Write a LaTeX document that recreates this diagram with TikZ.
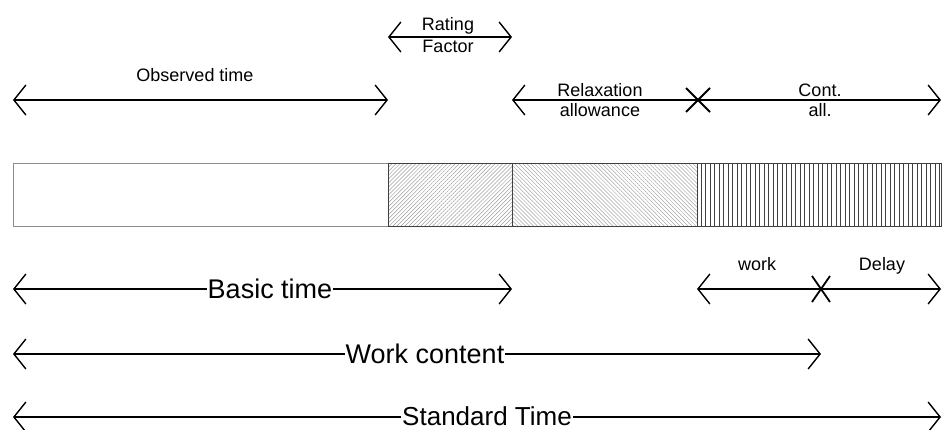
\documentclass[tikz,border=0pt]{standalone}
\usepackage{fontspec}
\setmainfont{Liberation Sans}
\usetikzlibrary{arrows.meta,patterns.meta}
\tikzset{
  chev/.tip={Straight Barb[length=12pt,width=30pt,line width=1.4pt]},
  dim/.style={line width=1.3pt,{chev}-{chev}},
  small/.style={font=\fontsize{18}{20}\selectfont,inner sep=0pt},
  big/.style={font=\fontsize{27}{30}\selectfont,fill=white,inner sep=1pt},
  xmark/.style={line width=1.8pt},
  barline/.style={draw=black!75,line width=0.8pt},
  stripe/.style={draw=black!75,line width=0.5pt}
}
\begin{document}
\begin{tikzpicture}[x=1pt,y=-1pt]
\useasboundingbox (0,0) rectangle (943,429);
% bar coordinates
\coordinate (b0t) at (13,163);
\coordinate (b1t) at (388,163);
\coordinate (b2t) at (512,163);
\coordinate (b3t) at (697,163);
\coordinate (b4t) at (941,163);
\coordinate (b0b) at (13,226);
\coordinate (b1b) at (388,226);
\coordinate (b2b) at (512,226);
\coordinate (b3b) at (697,226);
\coordinate (b4b) at (941,226);
% bar
\fill[pattern={Lines[angle=45,distance=2.8pt,line width=0.5pt]},pattern color=black!38] (b1t) rectangle (b2b);
\fill[pattern={Lines[angle=-45,distance=2.8pt,line width=0.5pt]},pattern color=black!35] (b2t) rectangle (b3b);
\foreach \x in {701,705.5,...,940} \draw[stripe] (\x,163) -- (\x,226);
\draw[draw=black!45,line width=0.9pt] (b0t) rectangle (b1b);
\draw[barline] (b1t) rectangle (b2b);
\draw[barline] (b2t) rectangle (b3b);
\draw[barline] (b3t) rectangle (b4b);

% Rating factor
\coordinate (rfL) at (388,37);
\coordinate (rfR) at (512,37);
\draw[dim] (rfL) -- (rfR);
\node[small,anchor=south] (rating) at (448,34) {Rating};
\node[small,anchor=north] (factor) at (448,40) {Factor};

% Observed time
\coordinate (obL) at (13,100);
\coordinate (obR) at (388,100);
\draw[dim] (obL) -- (obR);
\node[small] (observed) at (195,75) {Observed time};

% Relaxation + contingency
\coordinate (rlL) at (512,100);
\coordinate (rlX) at (698,100);
\coordinate (rlR) at (941,100);
\draw[dim] (rlL) -- (rlR);
\draw[xmark] ([shift={(-12,-12)}]rlX) -- ([shift={(12,12)}]rlX);
\draw[xmark] ([shift={(-12,12)}]rlX) -- ([shift={(12,-12)}]rlX);
\node[small,anchor=south] (relax) at (600,97) {Relaxation};
\node[small,anchor=north] (allow) at (600,103) {allowance};
\node[small,anchor=south] (cont) at (820,97) {Cont.};
\node[small,anchor=north] (all) at (820,103) {all.};

% Basic time
\coordinate (btL) at (13,289);
\coordinate (btR) at (512,289);
\draw[dim] (btL) -- (btR);
\node[big] (basic) at (270,289) {Basic time};

% work / Delay
\coordinate (wdL) at (697,289);
\coordinate (wdX) at (821,289);
\coordinate (wdR) at (941,289);
\draw[dim] (wdL) -- (wdR);
\draw[xmark] ([shift={(-9,-13)}]wdX) -- ([shift={(9,13)}]wdX);
\draw[xmark] ([shift={(-9,13)}]wdX) -- ([shift={(9,-13)}]wdX);
\node[small,anchor=base] (work) at (757,270) {work};
\node[small,anchor=base] (delay) at (882,270) {Delay};

% Work content
\coordinate (wcL) at (13,354);
\coordinate (wcR) at (821,354);
\draw[dim] (wcL) -- (wcR);
\node[big] (wcontent) at (425,354) {Work content};

% Standard time
\coordinate (stL) at (13,417);
\coordinate (stR) at (941,417);
\draw[dim] (stL) -- (stR);
\node[big,font=\fontsize{26}{28}\selectfont] (standard) at (487,416) {Standard Time};
\end{tikzpicture}
\end{document}
